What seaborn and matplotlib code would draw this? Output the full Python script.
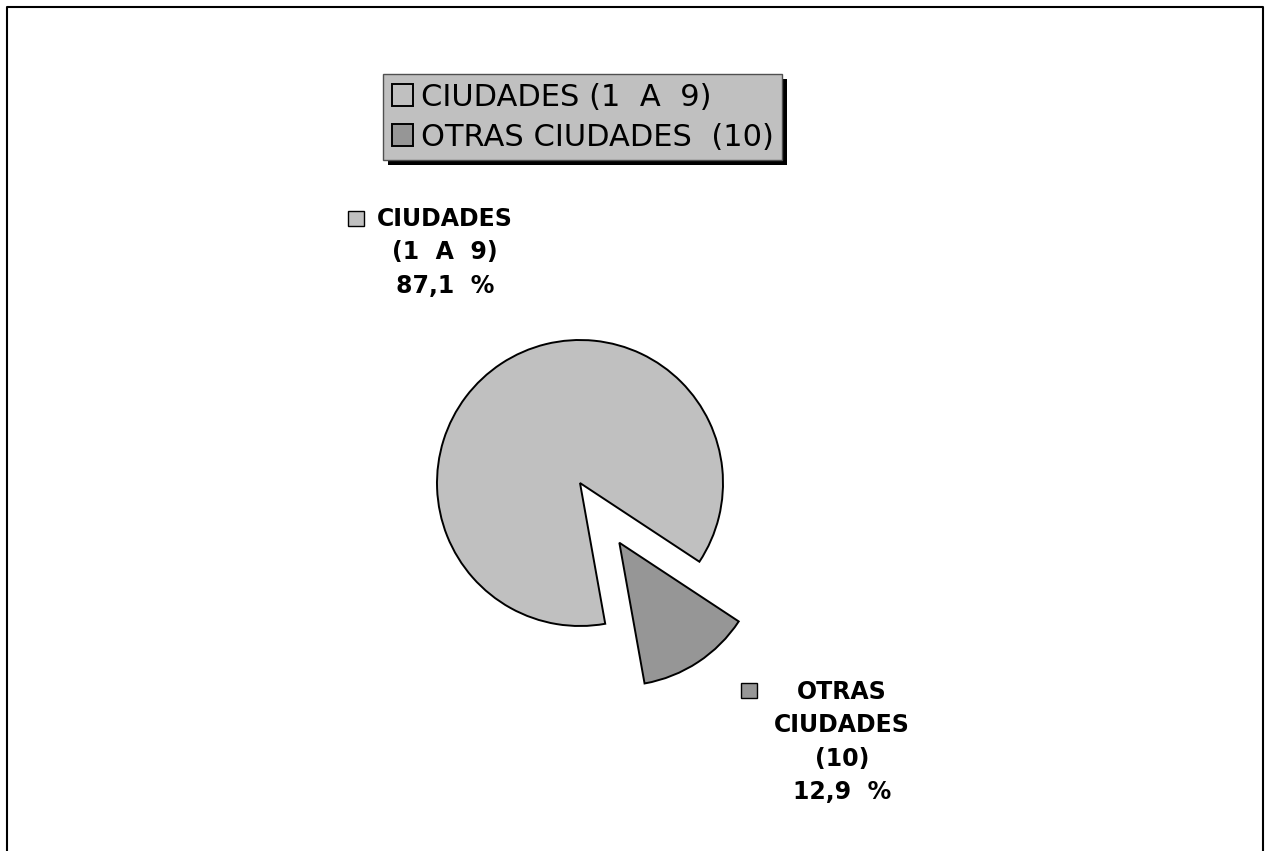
import matplotlib.pyplot as plt
import seaborn as sns
from matplotlib.patches import Rectangle
from matplotlib.lines import Line2D

# ------ Datos ------ #
categorias = ["CIUDADES (1  A  9)", "OTRAS CIUDADES  (10)"]
porcentajes = [87.1, 12.9]
etiquetas = ["CIUDADES\n(1  A  9)\n87,1  %", "OTRAS\nCIUDADES\n(10)\n12,9  %"]
colores = ["#C0C0C0", "#969696"]
separacion = [0, 0.5]

sns.set_style("white")
plt.rcParams['font.family'] = ['DejaVu Sans']
plt.rcParams['text.color'] = 'black'

W, H = 1270, 851
fig = plt.figure(figsize=(12.7, 8.51), dpi=100)

# Eje centrado en el centro de la torta (radio ~143 px)
ax = fig.add_axes([(580 - 300) / W, (H - 483 - 300) / H, 600 / W, 600 / H])
wedges, _ = ax.pie(porcentajes, colors=colores, explode=separacion,
                   startangle=-33.4, counterclock=True,
                   wedgeprops=dict(edgecolor='black', linewidth=1.4))
lim = 300 / 143
ax.set_xlim(-lim, lim)
ax.set_ylim(-lim, lim)
ax.set_aspect('equal')
ax.axis('off')

# Etiquetas de datos
pos_etiquetas = [(-0.944, 1.615), (1.832, -1.81)]
for texto, (x, y) in zip(etiquetas, pos_etiquetas):
    ax.text(x, y, texto, ha='center', va='center', multialignment='center',
            fontsize=17, fontweight='bold', linespacing=1.5, color='black')

# Cuadritos de las etiquetas
for (px, py), col in zip([(348, 211), (741, 683)], colores):
    fig.add_artist(Rectangle((px / W, 1 - (py + 15) / H), 16 / W, 15 / H,
                             transform=fig.transFigure, facecolor=col,
                             edgecolor='black', linewidth=1))

# Leyenda
leg = fig.legend(wedges, categorias, loc='upper left',
                 bbox_to_anchor=(383 / W, 1 - 74 / H), fontsize=22,
                 frameon=True, fancybox=False, shadow=False,
                 facecolor='#C0C0C0', edgecolor='#505050', framealpha=1,
                 handlelength=0.7, handleheight=0.7, handletextpad=0.25,
                 labelspacing=0.36, borderpad=0.28, borderaxespad=0)
leg.get_frame().set_linewidth(1)
for t in leg.get_texts():
    t.set_color('black')

# Sombra de la leyenda
fig.canvas.draw()
bb = leg.get_window_extent()
fig.add_artist(Rectangle(((bb.x0 + 5) / W, (bb.y0 - 5) / H), bb.width / W, bb.height / H,
                         transform=fig.transFigure, facecolor='black',
                         edgecolor='none', zorder=leg.get_zorder() - 0.1))

# Marco exterior
fig.add_artist(Line2D([7 / W, 7 / W, 1263 / W, 1263 / W], [0, 1 - 7 / H, 1 - 7 / H, 0],
                      transform=fig.transFigure, color='black', linewidth=1.5))

plt.savefig("out.png", dpi=100)
